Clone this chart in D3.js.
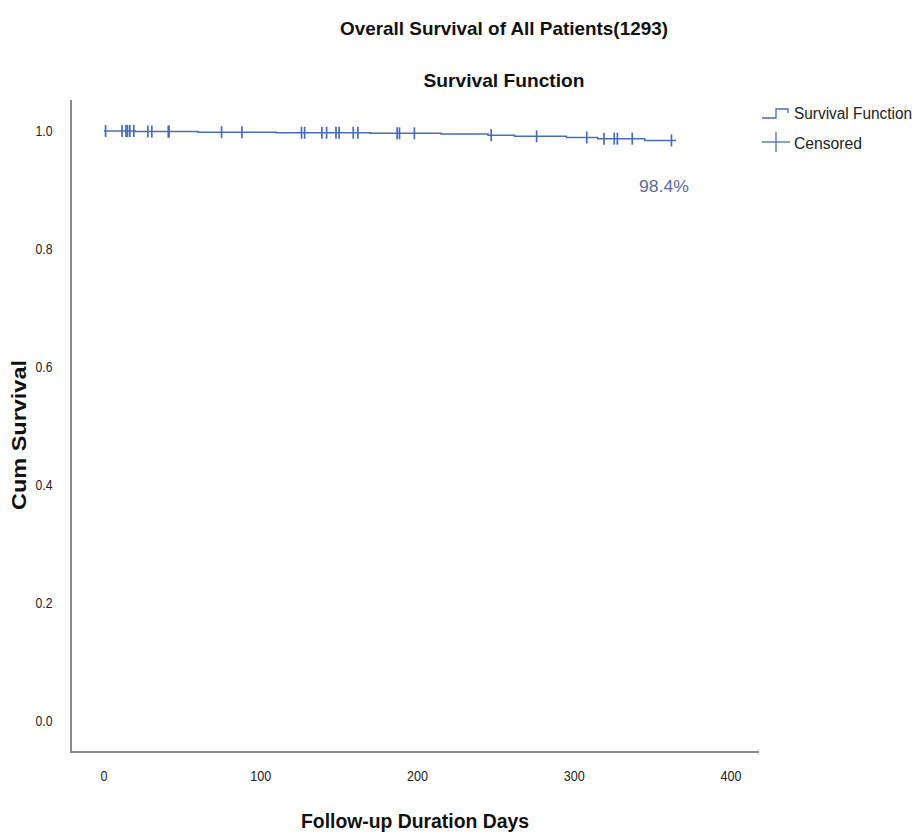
<!DOCTYPE html>
<html><head><meta charset="utf-8">
<script src="https://cdn.jsdelivr.net/npm/d3@7"></script>
<style>body{margin:0;background:#fff}text{font-family:"Liberation Sans",Arial,sans-serif}</style>
</head><body><svg id="c" width="917" height="840"></svg>
<script>
// KM step points (time in days, survival)
const eventTimes = [0, 20, 60, 110, 170, 215, 245, 262, 295, 315, 345];
const survValues = [1.0, 0.999, 0.998, 0.997, 0.996, 0.995, 0.993, 0.991, 0.989, 0.987, 0.984];
const endTime = 365;
// censored observation times
const censorTimes = [1, 11.5, 14, 15, 16.5, 19, 28, 30.5, 41, 41.5, 75, 88, 126, 128, 139, 142, 148, 150, 159, 162, 187, 188.5, 198, 247, 276, 308, 319, 325.5, 327.5, 337, 362];
const xTicks = [0, 100, 200, 300, 400];
const yTicks = [0.0, 0.2, 0.4, 0.6, 0.8, 1.0];
const finalLabel = "98.4%";

const svg = d3.select("#c");
const x = d3.scaleLinear().domain([0, 400]).range([104, 731]);
const y = d3.scaleLinear().domain([0, 1]).range([721, 131]);
const blue = "#4a6cc0";

function survAt(t){ let s = survValues[0]; for (let i=0;i<eventTimes.length;i++){ if (eventTimes[i] <= t) s = survValues[i]; } return s; }
function narrow(sel, w){ return sel.attr("textLength", w).attr("lengthAdjust","spacingAndGlyphs"); }

// axes frame
svg.append("line").attr("x1",71).attr("x2",71).attr("y1",100).attr("y2",752).attr("stroke","#8a8a8a").attr("stroke-width",2);
svg.append("line").attr("x1",70).attr("x2",759).attr("y1",752).attr("y2",752).attr("stroke","#8a8a8a").attr("stroke-width",2);

// tick labels
svg.selectAll(".yt").data(yTicks).join("text").attr("x",44).attr("y",d=>y(d)+5)
  .attr("text-anchor","middle").attr("font-size",14).attr("fill","#222")
  .attr("textLength",17).attr("lengthAdjust","spacingAndGlyphs").text(d=>d.toFixed(1));
svg.selectAll(".xt").data(xTicks).join("text").attr("x",d=>x(d)).attr("y",781)
  .attr("text-anchor","middle").attr("font-size",14).attr("fill","#222")
  .attr("textLength",d=>String(d).length*7).attr("lengthAdjust","spacingAndGlyphs").text(d=>d);

// curve
const pts = [];
eventTimes.forEach((t,i)=>{ pts.push([t, i===0?survValues[0]:survValues[i-1]]); pts.push([t, survValues[i]]); });
pts.push([endTime, survValues[survValues.length-1]]);
svg.append("path").datum(pts).attr("fill","none").attr("stroke",blue).attr("stroke-width",1.5)
  .attr("d", d3.line().x(d=>x(d[0])).y(d=>y(d[1])));

// censor marks
svg.selectAll(".cm").data(censorTimes).join("line")
  .attr("x1",d=>x(d)).attr("x2",d=>x(d))
  .attr("y1",d=>y(survAt(d))-6).attr("y2",d=>y(survAt(d))+6)
  .attr("stroke",blue).attr("stroke-width",1.7);

// final label
narrow(svg.append("text").attr("x",664).attr("y",192).attr("text-anchor","middle")
  .attr("font-size",17).attr("fill","#5d6b9c"), 50).text(finalLabel);

// titles
narrow(svg.append("text").attr("x",504).attr("y",35).attr("text-anchor","middle").attr("font-size",19).attr("font-weight","bold").attr("fill","#111"),328).text("Overall Survival of All Patients(1293)");
narrow(svg.append("text").attr("x",504).attr("y",87).attr("text-anchor","middle").attr("font-size",19).attr("font-weight","bold").attr("fill","#111"),161).text("Survival Function");

// axis titles
narrow(svg.append("text").attr("x",415).attr("y",828).attr("text-anchor","middle").attr("font-size",20).attr("font-weight","bold").attr("fill","#111"),228).text("Follow-up Duration Days");
svg.append("text").attr("transform","translate(26,435) rotate(-90)").attr("text-anchor","middle")
  .attr("font-size",21).attr("font-weight","bold").attr("fill","#111")
  .attr("textLength",150).attr("lengthAdjust","spacingAndGlyphs").text("Cum Survival");

// legend
const lg = svg.append("g");
lg.append("path").attr("d","M762,118 H776 V109 H788 V113").attr("fill","none").attr("stroke",blue).attr("stroke-width",1.3);
narrow(lg.append("text").attr("x",794).attr("y",119).attr("font-size",16).attr("fill","#222"),118).text("Survival Function");
lg.append("line").attr("x1",762).attr("x2",790).attr("y1",142).attr("y2",142).attr("stroke",blue).attr("stroke-width",1.3);
lg.append("line").attr("x1",776).attr("x2",776).attr("y1",132).attr("y2",152).attr("stroke",blue).attr("stroke-width",1.3);
narrow(lg.append("text").attr("x",794).attr("y",149).attr("font-size",16).attr("fill","#222"),68).text("Censored");
</script></body></html>
